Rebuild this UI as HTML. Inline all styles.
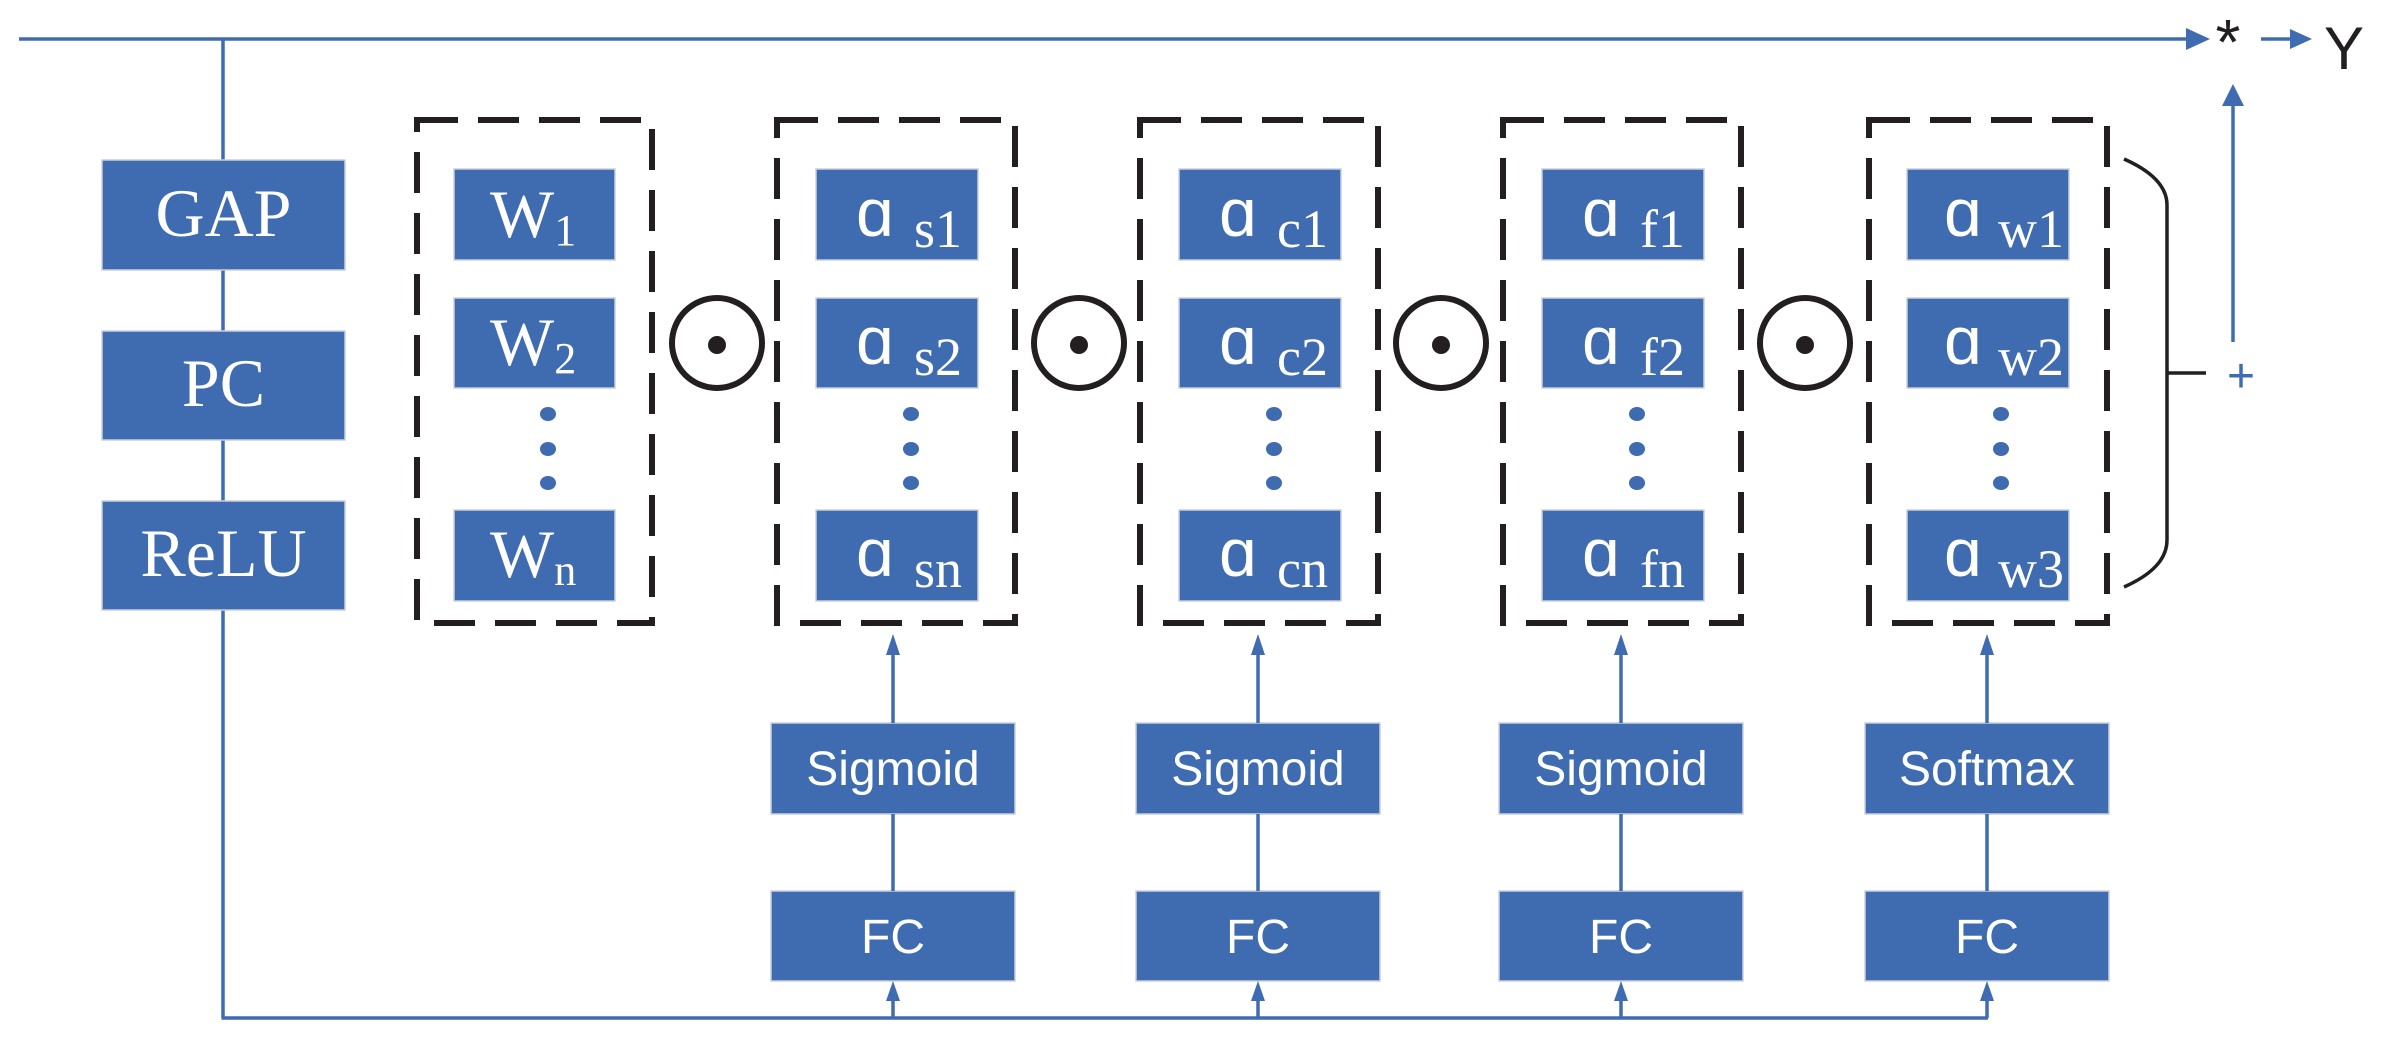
<!DOCTYPE html>
<html><head><meta charset="utf-8"><style>
html,body{margin:0;padding:0;background:#fff;}
svg{display:block;}
.bx{fill:#3F6BB1;stroke:#c8cfdc;stroke-width:1.5;}
.ser{font-family:"Liberation Serif",serif;fill:#fff;}
.san{font-family:"Liberation Sans",sans-serif;fill:#fff;}
.ln{stroke:#3F6BB1;stroke-width:3.5;fill:none;}
.ds{fill:none;stroke:#231f20;stroke-width:6;stroke-dasharray:41 20;}
</style></head><body>
<svg width="2381" height="1040" viewBox="0 0 2381 1040" xmlns="http://www.w3.org/2000/svg">
<line class="ln" x1="19" y1="39" x2="2190" y2="39"/>
<path d="M2186,28 L2210,39 L2186,50 z" fill="#3F6BB1"/>
<text x="2228" y="64" font-family="Liberation Sans,sans-serif" font-size="64" fill="#231f20" text-anchor="middle">*</text>
<line class="ln" x1="2261" y1="39" x2="2292" y2="39"/>
<path d="M2290,29 L2312,39 L2290,49 z" fill="#3F6BB1"/>
<text x="2344" y="69" font-family="Liberation Sans,sans-serif" font-size="60" fill="#231f20" text-anchor="middle">Y</text>
<line class="ln" x1="223" y1="39" x2="223" y2="1018"/>
<line class="ln" x1="221.5" y1="1018" x2="1988" y2="1018"/>
<rect class="bx" x="102" y="160" width="243" height="110"/>
<text class="ser" x="223.5" y="236" font-size="68" text-anchor="middle">GAP</text>
<rect class="bx" x="102" y="331" width="243" height="109"/>
<text class="ser" x="223.5" y="406" font-size="68" text-anchor="middle">PC</text>
<rect class="bx" x="102" y="501" width="243" height="109"/>
<text class="ser" x="223.5" y="576" font-size="68" text-anchor="middle">ReLU</text>
<rect class="ds" x="417" y="120" width="235" height="503"/>
<rect class="bx" x="454" y="169" width="161" height="91"/>
<text class="ser" x="490" y="237" font-size="68">W<tspan font-size="44" dy="8">1</tspan></text>
<rect class="bx" x="454" y="298" width="161" height="90"/>
<text class="ser" x="490" y="365" font-size="68">W<tspan font-size="44" dy="8">2</tspan></text>
<rect class="bx" x="454" y="510" width="161" height="91"/>
<text class="ser" x="490" y="577" font-size="68">W<tspan font-size="44" dy="8">n</tspan></text>
<g fill="#3F6BB1"><ellipse cx="548" cy="414" rx="8" ry="7"/><ellipse cx="548" cy="449" rx="8" ry="7"/><ellipse cx="548" cy="483" rx="8" ry="7"/></g>
<g fill="none" stroke="#231f20" stroke-width="6">
<circle cx="717" cy="343" r="45"/><circle cx="1079" cy="343" r="45"/><circle cx="1441" cy="343" r="45"/><circle cx="1805" cy="343" r="45"/>
</g>
<g fill="#231f20">
<circle cx="717" cy="345" r="9"/><circle cx="1079" cy="345" r="9"/><circle cx="1441" cy="345" r="9"/><circle cx="1805" cy="345" r="9"/>
</g>
<g>
<rect class="ds" x="777" y="120" width="238" height="503"/>
<rect class="bx" x="816" y="169" width="162" height="91"/>
<rect class="bx" x="816" y="298" width="162" height="90"/>
<rect class="bx" x="816" y="510" width="162" height="91"/>
<text class="san" x="856" y="236" font-size="68">ɑ</text><text class="ser" x="914" y="247" font-size="54">s1</text>
<text class="san" x="856" y="364" font-size="68">ɑ</text><text class="ser" x="914" y="375" font-size="54">s2</text>
<text class="san" x="856" y="576" font-size="68">ɑ</text><text class="ser" x="914" y="587" font-size="54">sn</text>
<g fill="#3F6BB1"><ellipse cx="911" cy="414" rx="8" ry="7"/><ellipse cx="911" cy="449" rx="8" ry="7"/><ellipse cx="911" cy="483" rx="8" ry="7"/></g>
</g>
<g>
<rect class="ds" x="1140" y="120" width="238" height="503"/>
<rect class="bx" x="1179" y="169" width="162" height="91"/>
<rect class="bx" x="1179" y="298" width="162" height="90"/>
<rect class="bx" x="1179" y="510" width="162" height="91"/>
<text class="san" x="1219" y="236" font-size="68">ɑ</text><text class="ser" x="1277" y="247" font-size="54">c1</text>
<text class="san" x="1219" y="364" font-size="68">ɑ</text><text class="ser" x="1277" y="375" font-size="54">c2</text>
<text class="san" x="1219" y="576" font-size="68">ɑ</text><text class="ser" x="1277" y="587" font-size="54">cn</text>
<g fill="#3F6BB1"><ellipse cx="1274" cy="414" rx="8" ry="7"/><ellipse cx="1274" cy="449" rx="8" ry="7"/><ellipse cx="1274" cy="483" rx="8" ry="7"/></g>
</g>
<g>
<rect class="ds" x="1503" y="120" width="238" height="503"/>
<rect class="bx" x="1542" y="169" width="162" height="91"/>
<rect class="bx" x="1542" y="298" width="162" height="90"/>
<rect class="bx" x="1542" y="510" width="162" height="91"/>
<text class="san" x="1582" y="236" font-size="68">ɑ</text><text class="ser" x="1640" y="247" font-size="54">f1</text>
<text class="san" x="1582" y="364" font-size="68">ɑ</text><text class="ser" x="1640" y="375" font-size="54">f2</text>
<text class="san" x="1582" y="576" font-size="68">ɑ</text><text class="ser" x="1640" y="587" font-size="54">fn</text>
<g fill="#3F6BB1"><ellipse cx="1637" cy="414" rx="8" ry="7"/><ellipse cx="1637" cy="449" rx="8" ry="7"/><ellipse cx="1637" cy="483" rx="8" ry="7"/></g>
</g>
<g>
<rect class="ds" x="1869" y="120" width="238" height="503"/>
<rect class="bx" x="1907" y="169" width="162" height="91"/>
<rect class="bx" x="1907" y="298" width="162" height="90"/>
<rect class="bx" x="1907" y="510" width="162" height="91"/>
<text class="san" x="1944" y="236" font-size="68">ɑ</text><text class="ser" x="1998" y="247" font-size="54">w1</text>
<text class="san" x="1944" y="364" font-size="68">ɑ</text><text class="ser" x="1998" y="375" font-size="54">w2</text>
<text class="san" x="1944" y="576" font-size="68">ɑ</text><text class="ser" x="1998" y="587" font-size="54">w3</text>
<g fill="#3F6BB1"><ellipse cx="2001" cy="414" rx="8" ry="7"/><ellipse cx="2001" cy="449" rx="8" ry="7"/><ellipse cx="2001" cy="483" rx="8" ry="7"/></g>
</g>
<path d="M2124,159 Q2167,178 2167,205 L2167,540 Q2167,568 2124,587" fill="none" stroke="#231f20" stroke-width="3.5"/>
<line x1="2167" y1="373" x2="2206" y2="373" stroke="#231f20" stroke-width="3.5"/>
<text x="2241" y="392" font-family="Liberation Sans,sans-serif" font-size="48" fill="#3F6BB1" text-anchor="middle">+</text>
<line class="ln" x1="2233" y1="342" x2="2233" y2="100"/>
<path d="M2222,106 L2233,84 L2244,106 z" fill="#3F6BB1"/>
<g>
<rect class="bx" x="771" y="723" width="244" height="91"/>
<text class="san" x="893" y="785" font-size="48" text-anchor="middle">Sigmoid</text>
<rect class="bx" x="771" y="891" width="244" height="90"/>
<text class="san" x="893" y="953" font-size="48" text-anchor="middle">FC</text>
<rect class="bx" x="1136" y="723" width="244" height="91"/>
<text class="san" x="1258" y="785" font-size="48" text-anchor="middle">Sigmoid</text>
<rect class="bx" x="1136" y="891" width="244" height="90"/>
<text class="san" x="1258" y="953" font-size="48" text-anchor="middle">FC</text>
<rect class="bx" x="1499" y="723" width="244" height="91"/>
<text class="san" x="1621" y="785" font-size="48" text-anchor="middle">Sigmoid</text>
<rect class="bx" x="1499" y="891" width="244" height="90"/>
<text class="san" x="1621" y="953" font-size="48" text-anchor="middle">FC</text>
<rect class="bx" x="1865" y="723" width="244" height="91"/>
<text class="san" x="1987" y="785" font-size="48" text-anchor="middle">Softmax</text>
<rect class="bx" x="1865" y="891" width="244" height="90"/>
<text class="san" x="1987" y="953" font-size="48" text-anchor="middle">FC</text>
</g>
<g>
<line class="ln" x1="893" y1="891" x2="893" y2="814"/><line class="ln" x1="893" y1="723" x2="893" y2="650"/>
<path d="M886,655 L893,634 L900,655 z" fill="#3F6BB1"/>
<line class="ln" x1="893" y1="1018" x2="893" y2="998"/><path d="M886,1001 L893,981 L900,1001 z" fill="#3F6BB1"/>
<line class="ln" x1="1258" y1="891" x2="1258" y2="814"/><line class="ln" x1="1258" y1="723" x2="1258" y2="650"/>
<path d="M1251,655 L1258,634 L1265,655 z" fill="#3F6BB1"/>
<line class="ln" x1="1258" y1="1018" x2="1258" y2="998"/><path d="M1251,1001 L1258,981 L1265,1001 z" fill="#3F6BB1"/>
<line class="ln" x1="1621" y1="891" x2="1621" y2="814"/><line class="ln" x1="1621" y1="723" x2="1621" y2="650"/>
<path d="M1614,655 L1621,634 L1628,655 z" fill="#3F6BB1"/>
<line class="ln" x1="1621" y1="1018" x2="1621" y2="998"/><path d="M1614,1001 L1621,981 L1628,1001 z" fill="#3F6BB1"/>
<line class="ln" x1="1987" y1="891" x2="1987" y2="814"/><line class="ln" x1="1987" y1="723" x2="1987" y2="650"/>
<path d="M1980,655 L1987,634 L1994,655 z" fill="#3F6BB1"/>
<line class="ln" x1="1987" y1="1018" x2="1987" y2="998"/><path d="M1980,1001 L1987,981 L1994,1001 z" fill="#3F6BB1"/>
</g>
</svg>
</body></html>
